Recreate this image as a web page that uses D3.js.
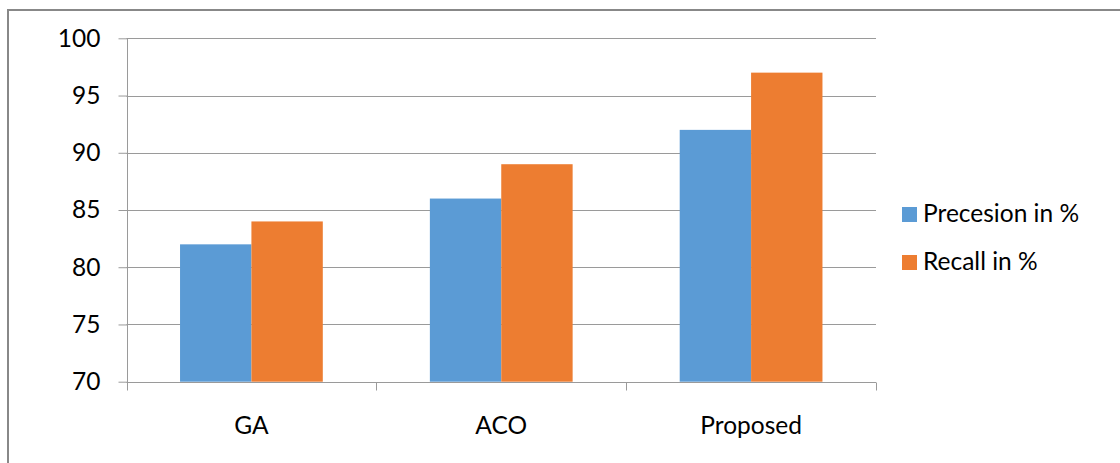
<!DOCTYPE html>
<html>
<head>
<meta charset="utf-8">
<script src="https://cdn.jsdelivr.net/npm/d3@7"></script>
<style>
  html, body { margin: 0; padding: 0; background: #fff; }
  svg { display: block; font-family: Lato, "Open Sans", sans-serif; }
</style>
</head>
<body>
<svg id="chart" width="1120" height="463"></svg>
<script>
const categories = ["GA", "ACO", "Proposed"];
const seriesNames = ["Precesion in %", "Recall in %"];
const precision = [82, 86, 92];
const recall = [84, 89, 97];
const yTicks = [70, 75, 80, 85, 90, 95, 100];
const colors = ["#5B9BD5", "#ED7D31"];

const svg = d3.select("#chart");
const pLeft = 126.5, pRight = 876, pTop = 38.3, pBottom = 381.7;
const fs = 24.5;

// outer frame
svg.append("rect").attr("x", 8).attr("y", 10).attr("width", 1130).attr("height", 480)
  .attr("fill", "none").attr("stroke", "#888").attr("stroke-width", 2);

const y = d3.scaleLinear().domain([70, 100]).range([pBottom, pTop]);
const x0 = d3.scaleBand().domain(categories).range([pLeft, pRight]).padding(0);
const x1 = d3.scaleBand().domain(seriesNames).range([0, x0.bandwidth()]).paddingInner(0).paddingOuter(0.75);

// gridlines
svg.append("g").selectAll("line").data(yTicks.filter(t => t > 70)).join("line")
  .attr("x1", pLeft).attr("x2", pRight)
  .attr("y1", d => Math.round(y(d)) + 0.5).attr("y2", d => Math.round(y(d)) + 0.5)
  .attr("stroke", "#9a9a9a").attr("stroke-width", 1);

// bars
const data = categories.map((c, i) => ({ c, vals: [precision[i], recall[i]] }));
const groups = svg.append("g").selectAll("g").data(data).join("g")
  .attr("transform", d => `translate(${x0(d.c)},0)`);
groups.selectAll("rect").data(d => d.vals.map((v, j) => ({ v, s: seriesNames[j], j }))).join("rect")
  .attr("x", d => x1(d.s)).attr("width", x1.bandwidth())
  .attr("y", d => y(d.v)).attr("height", d => y(70) - y(d.v))
  .attr("fill", d => colors[d.j]);

// y axis
const yAxis = d3.axisLeft(y).tickValues(yTicks).tickSize(9).tickPadding(18);
const gy = svg.append("g").attr("transform", `translate(${Math.round(pLeft) + 0.5},0)`).call(yAxis);
gy.select(".domain").attr("stroke", "#9a9a9a").attr("d", `M0,${pTop}V${Math.round(pBottom)+0.5}`);
gy.selectAll(".tick line").attr("stroke", "#9a9a9a");
gy.selectAll(".tick text").attr("font-size", fs).attr("fill", "#000").attr("font-family", "Lato, sans-serif");

// x axis
const xAxis = d3.axisBottom(x0).tickSize(0).tickPadding(34);
const gx = svg.append("g").attr("transform", `translate(0,${Math.round(pBottom) + 0.5})`).call(xAxis);
gx.select(".domain").attr("stroke", "#9a9a9a").attr("d", `M${pLeft},0H${pRight}`);
gx.selectAll(".tick text").attr("font-size", fs).attr("fill", "#000").attr("font-family", "Lato, sans-serif");
// category boundary ticks
const bounds = [pLeft, ...categories.map(c => x0(c) + x0.bandwidth())];
gx.append("g").selectAll("line").data(bounds).join("line")
  .attr("x1", d => Math.round(d) + 0.5).attr("x2", d => Math.round(d) + 0.5)
  .attr("y1", 0).attr("y2", 8).attr("stroke", "#9a9a9a");

// legend
const legend = svg.append("g").attr("transform", "translate(902,207)");
const items = legend.selectAll("g").data(seriesNames).join("g")
  .attr("transform", (d, i) => `translate(0,${i * 48})`);
items.append("rect").attr("width", 15).attr("height", 15).attr("fill", (d, i) => colors[i]);
items.append("text").attr("x", 21).attr("y", 15).attr("font-size", fs).attr("fill", "#000")
  .text(d => d);
</script>
</body>
</html>
